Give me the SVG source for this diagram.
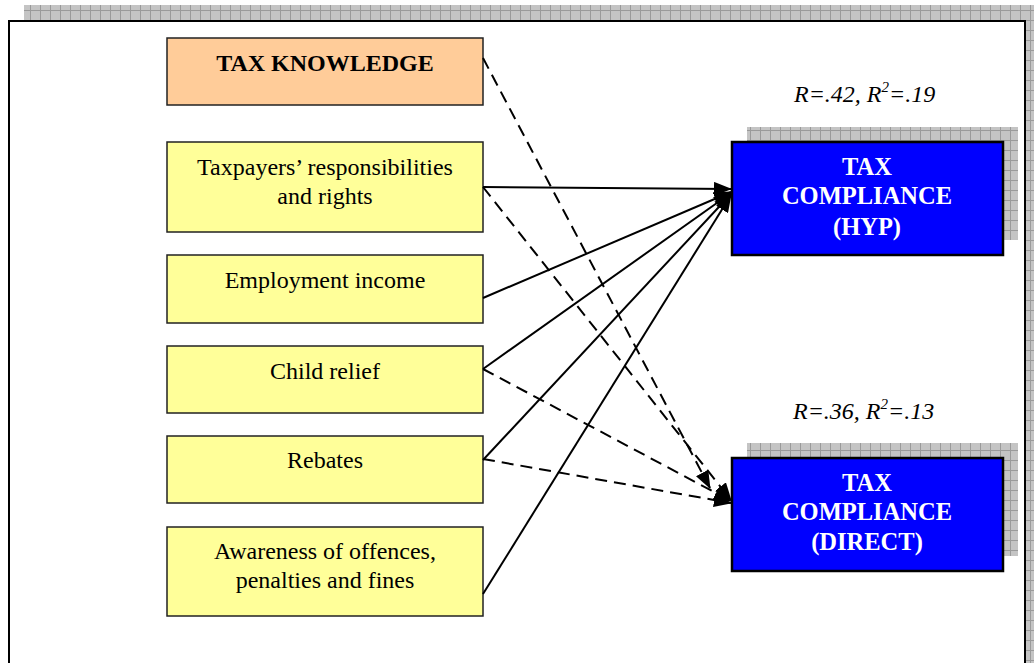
<svg xmlns="http://www.w3.org/2000/svg" width="1034" height="663" viewBox="0 0 1034 663">
<defs>
<pattern id="grid" width="10" height="10" patternUnits="userSpaceOnUse">
<rect width="10" height="10" fill="#c4c4c4"/>
<path d="M0 0.5H10M0.5 0V10" stroke="#9a9a9a" stroke-width="1"/>
</pattern>
<marker id="arr" markerUnits="userSpaceOnUse" markerWidth="18" markerHeight="14" refX="17" refY="7" orient="auto">
<path d="M0,0 L18,7 L0,14 z" fill="#000"/>
</marker>
<style>
.t{font-family:"Liberation Serif","Times New Roman",serif;font-size:24px;fill:#000;text-anchor:middle}
.b{font-weight:bold}
.w{fill:#fff;font-weight:bold;font-size:24.5px}
.r{font-style:italic;text-anchor:start}
.yb{fill:#ffff99;stroke:#222;stroke-width:1.5}
.bb{fill:#0000ff;stroke:#000;stroke-width:2.5}
.s{stroke:#000;stroke-width:2;fill:none;marker-end:url(#arr)}
.d{stroke:#000;stroke-width:2;fill:none;stroke-dasharray:12 7;marker-end:url(#arr)}
</style>
</defs>
<rect width="1034" height="663" fill="#fff"/>
<g id="frame">
<rect x="24" y="5" width="1010" height="16" fill="url(#grid)"/>
<rect x="1026" y="5" width="8" height="658" fill="url(#grid)"/>
<path d="M9,663 V21 H1025 V663" fill="none" stroke="#000" stroke-width="2"/>
</g>
<g id="tax-knowledge">
<rect x="167" y="38" width="316" height="67" fill="#ffcc99" stroke="#222" stroke-width="1.5"/>
<text class="t b" x="325" y="71">TAX KNOWLEDGE</text>
</g>
<g id="responsibilities">
<rect class="yb" x="167" y="142" width="316" height="90"/>
<text class="t" x="325" y="175">Taxpayers’ responsibilities</text>
<text class="t" x="325" y="204">and rights</text>
</g>
<g id="employment">
<rect class="yb" x="167" y="255" width="316" height="68"/>
<text class="t" x="325" y="288">Employment income</text>
</g>
<g id="child-relief">
<rect class="yb" x="167" y="346" width="316" height="67"/>
<text class="t" x="325" y="379">Child relief</text>
</g>
<g id="rebates">
<rect class="yb" x="167" y="436" width="316" height="67"/>
<text class="t" x="325" y="468">Rebates</text>
</g>
<g id="awareness">
<rect class="yb" x="167" y="527" width="316" height="89"/>
<text class="t" x="325" y="559">Awareness of offences,</text>
<text class="t" x="325" y="588">penalties and fines</text>
</g>
<g id="hyp">
<rect x="747" y="127" width="271" height="113" fill="url(#grid)"/>
<rect class="bb" x="732" y="142" width="271" height="113"/>
<text class="t w" x="867" y="175">TAX</text>
<text class="t w" x="867" y="204">COMPLIANCE</text>
<text class="t w" x="867" y="235">(HYP)</text>
<text class="t r" x="794" y="102">R=.42, R<tspan font-size="15" dy="-10">2</tspan><tspan dy="10">=.19</tspan></text>
</g>
<g id="direct">
<rect x="747" y="443" width="271" height="113" fill="url(#grid)"/>
<rect class="bb" x="732" y="458" width="271" height="113"/>
<text class="t w" x="867" y="491">TAX</text>
<text class="t w" x="867" y="520">COMPLIANCE</text>
<text class="t w" x="867" y="550">(DIRECT)</text>
<text class="t r" x="793" y="419">R=.36, R<tspan font-size="15" dy="-10">2</tspan><tspan dy="10">=.13</tspan></text>
</g>
<g id="connectors">
<path class="s" d="M483,187 L731,189"/>
<path class="s" d="M483,298 L731,192"/>
<path class="s" d="M483,369 L731,193"/>
<path class="s" d="M483,460 L731,194"/>
<path class="s" d="M483,594 L731,195"/>
<path class="d" d="M483,58 L710,488"/>
<path class="d" d="M483,187 L731,500"/>
<path class="d" d="M483,369 L731,501"/>
<path class="d" d="M483,459 L731,503"/>
</g>
</svg>
